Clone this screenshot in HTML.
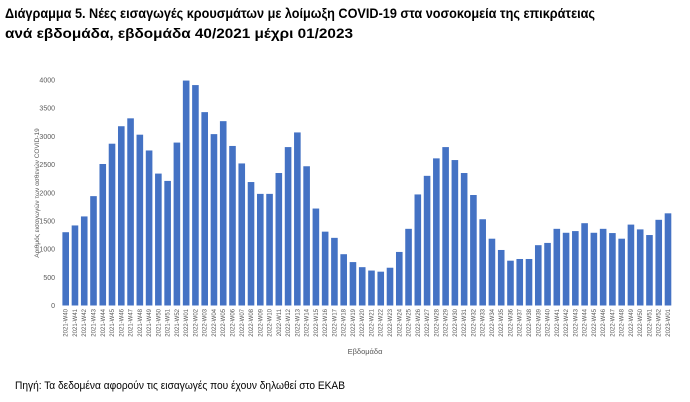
<!DOCTYPE html>
<html><head><meta charset="utf-8"><style>
body{margin:0;background:#fff;}
svg{display:block;font-family:"Liberation Sans","DejaVu Sans",sans-serif;}
</style></head><body>
<svg id="chart" width="690" height="402" viewBox="0 0 690 402">
<text x="5" y="18" font-size="14" font-weight="bold" fill="#000" textLength="590" lengthAdjust="spacingAndGlyphs">Διάγραμμα 5. Νέες εισαγωγές κρουσμάτων με λοίμωξη COVID-19 στα νοσοκομεία της επικράτειας</text>
<text x="5" y="38" font-size="14" font-weight="bold" fill="#000" textLength="348" lengthAdjust="spacingAndGlyphs">ανά εβδομάδα, εβδομάδα 40/2021 μέχρι 01/2023</text>
<g id="yticks"></g>
<g id="bars"></g>
<g id="xticks"></g>
<text transform="translate(39,193) rotate(-90)" font-size="6.5" fill="#595959" text-anchor="middle">Αριθμός εισαγωγών των ασθενών COVID-19</text>
<text x="365" y="354" font-size="7.5" fill="#595959" text-anchor="middle">Εβδομάδα</text>
<text x="15" y="389" font-size="11" fill="#000" textLength="330" lengthAdjust="spacingAndGlyphs">Πηγή: Τα δεδομένα αφορούν τις εισαγωγές που έχουν δηλωθεί στο ΕΚΑΒ</text>
</svg>
<script>
const weeks2021 = ["W40","W41","W42","W43","W44","W45","W46","W47","W48","W49","W50","W51","W52"];
const values = [1300,1420,1580,1940,2510,2870,3180,3320,3030,2750,2340,2210,2890,
3990,3910,3430,3040,3270,2830,2520,2190,1980,1980,2350,2810,3070,2470,1720,1310,1200,910,770,680,620,600,670,950,1360,1970,2300,2610,2810,2580,2350,1960,1530,1185,985,795,825,825,1070,1110,1360,1290,1320,1460,1290,1360,1285,1185,1435,1350,1250,1520,
1635];
const yTicks = [0,500,1000,1500,2000,2500,3000,3500,4000];
const categories = [];
weeks2021.forEach(w=>categories.push("2021-"+w));
for(let i=1;i<=52;i++) categories.push("2022-W"+String(i).padStart(2,"0"));
categories.push("2023-W01");

const NS="http://www.w3.org/2000/svg";
const y0=305.5, yTop=80, yMax=4000;
const yScale=v=>y0-(v/yMax)*(y0-yTop);
const x0=65.7, step=(668-65.7)/65, bw=6.6;
const xScale=i=>x0+i*step;

const yg=document.getElementById("yticks");
yTicks.forEach(t=>{
  const tx=document.createElementNS(NS,"text");
  
  
  tx.setAttribute("x",55);tx.setAttribute("y",yScale(t)+2.5);
  tx.setAttribute("font-size","7");tx.setAttribute("fill","#595959");tx.setAttribute("text-anchor","end");
  tx.textContent=t;yg.appendChild(tx);
});
const bg=document.getElementById("bars");
values.forEach((v,i)=>{
  const r=document.createElementNS(NS,"rect");
  
  
  r.setAttribute("x",xScale(i)-bw/2);r.setAttribute("y",yScale(v));
  r.setAttribute("width",bw);r.setAttribute("height",y0-yScale(v));
  r.setAttribute("fill","#4472c4");bg.appendChild(r);
});
const xg=document.getElementById("xticks");
categories.forEach((c,i)=>{
  const tx=document.createElementNS(NS,"text");
  
  
  const x=xScale(i)+2;
  tx.setAttribute("transform","translate("+x+",309) rotate(-90)");
  tx.setAttribute("font-size","6");tx.setAttribute("fill","#595959");tx.setAttribute("text-anchor","end");
  tx.textContent=c;xg.appendChild(tx);
});
</script>
</body></html>
